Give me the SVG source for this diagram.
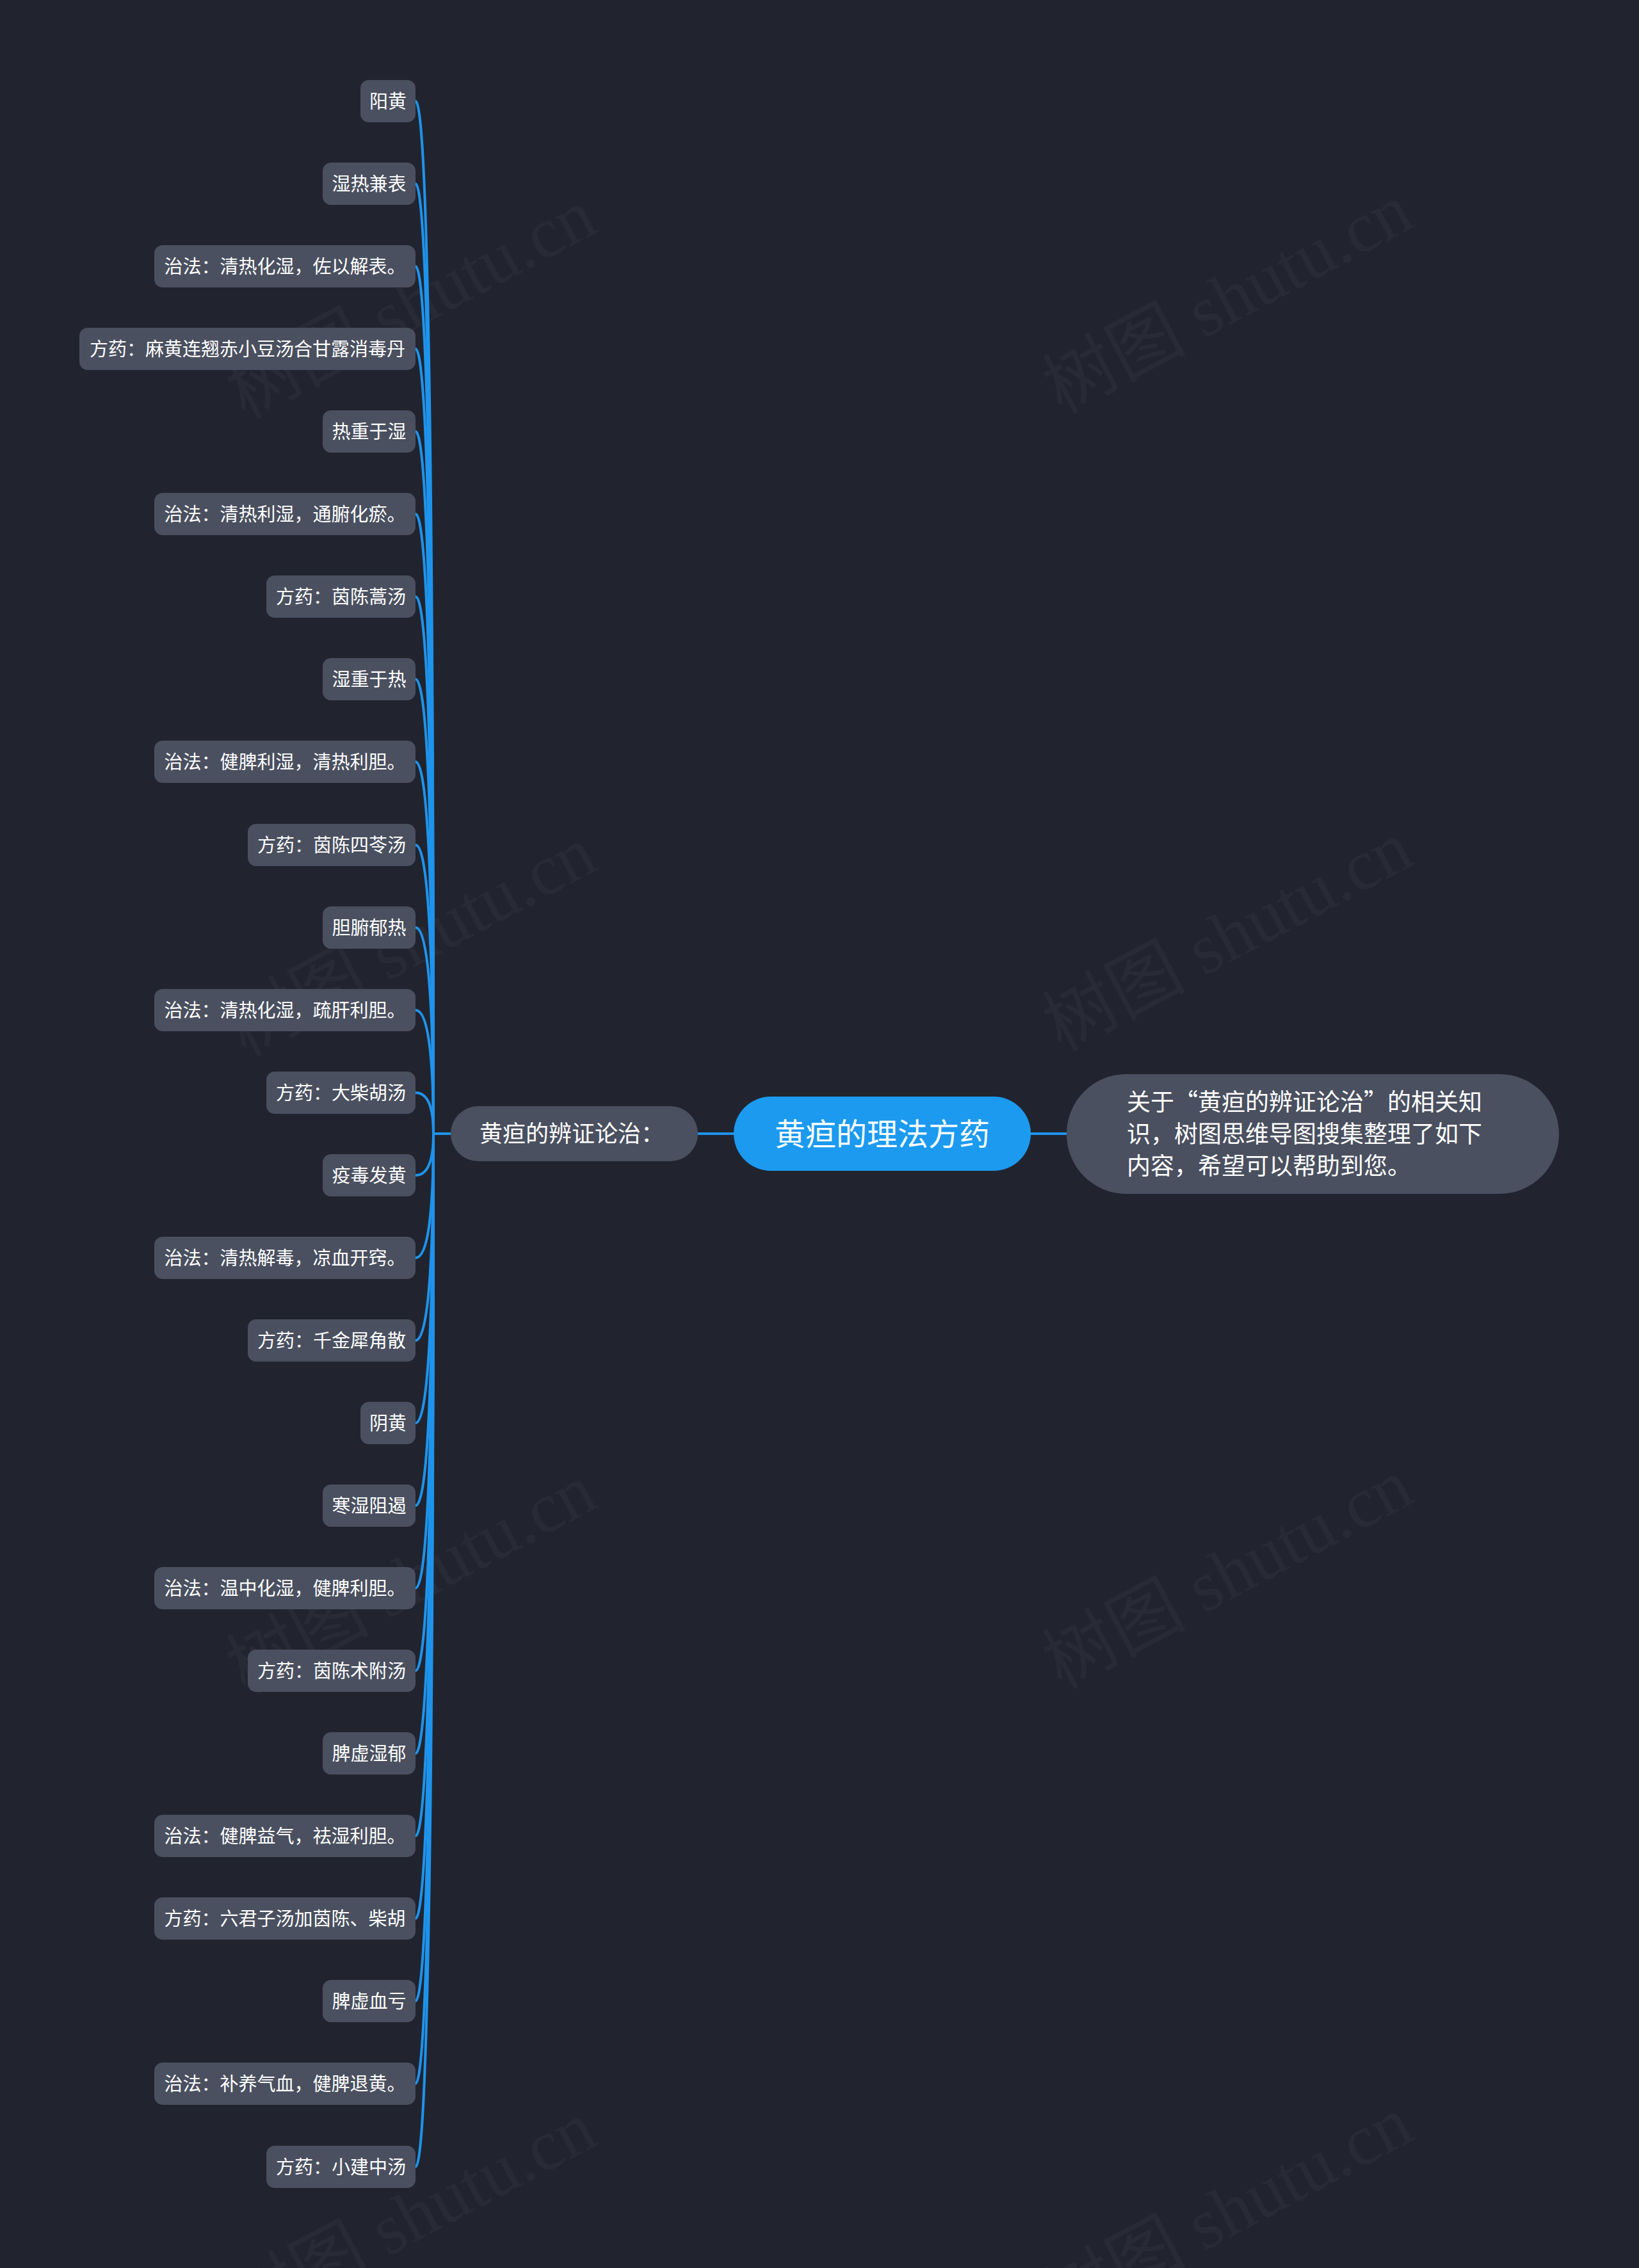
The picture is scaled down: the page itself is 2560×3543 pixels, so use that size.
<svg xmlns="http://www.w3.org/2000/svg" width="2560" height="3543" viewBox="0 0 2560 3543">
<style>
.bg{fill:#21242f}
.wm{font-family:"Liberation Serif","Noto Sans CJK SC",serif;font-size:112px;fill:#ffffff;fill-opacity:0.035}
.leaf rect{fill:#4a505f}
.leaf text{font-family:"Noto Sans CJK SC","Noto Sans",sans-serif;font-size:29px;fill:#ffffff;text-anchor:middle}
.con path{fill:none;stroke:#1e94ec;stroke-width:4;stroke-linecap:round}
.t36{font-family:"Noto Sans CJK SC","Noto Sans",sans-serif;font-size:36px;fill:#ffffff}
.t48{font-family:"Noto Sans CJK SC","Noto Sans",sans-serif;font-size:48px;fill:#ffffff;text-anchor:middle}
.t37{font-family:"Noto Sans CJK SC","Noto Sans",sans-serif;font-size:37px;fill:#ffffff}
</style>
<rect class="bg" x="0" y="0" width="2560" height="3543"/>
<g id="watermarks">
<text class="wm" transform="translate(660 508) rotate(-28)" text-anchor="middle">树图 shutu.cn</text>
<text class="wm" transform="translate(1935 500) rotate(-28)" text-anchor="middle">树图 shutu.cn</text>
<text class="wm" transform="translate(660 1504) rotate(-28)" text-anchor="middle">树图 shutu.cn</text>
<text class="wm" transform="translate(1935 1496) rotate(-28)" text-anchor="middle">树图 shutu.cn</text>
<text class="wm" transform="translate(660 2500) rotate(-28)" text-anchor="middle">树图 shutu.cn</text>
<text class="wm" transform="translate(1935 2492) rotate(-28)" text-anchor="middle">树图 shutu.cn</text>
<text class="wm" transform="translate(660 3496) rotate(-28)" text-anchor="middle">树图 shutu.cn</text>
<text class="wm" transform="translate(1935 3488) rotate(-28)" text-anchor="middle">树图 shutu.cn</text>
</g>
<g id="connectors" class="con">
<path d="M1610 1771 H1666"/>
<path d="M1090 1771 H1146"/>
<path d="M704 1771 H677"/>
<path d="M677 1771 Q677 158 649 158"/>
<path d="M677 1771 Q677 287 649 287"/>
<path d="M677 1771 Q677 416 649 416"/>
<path d="M677 1771 Q677 545 649 545"/>
<path d="M677 1771 Q677 674 649 674"/>
<path d="M677 1771 Q677 803 649 803"/>
<path d="M677 1771 Q677 932 649 932"/>
<path d="M677 1771 Q677 1061 649 1061"/>
<path d="M677 1771 Q677 1190 649 1190"/>
<path d="M677 1771 Q677 1320 649 1320"/>
<path d="M677 1771 Q677 1449 649 1449"/>
<path d="M677 1771 Q677 1578 649 1578"/>
<path d="M677 1771 Q677 1707 649 1707"/>
<path d="M677 1771 Q677 1836 649 1836"/>
<path d="M677 1771 Q677 1965 649 1965"/>
<path d="M677 1771 Q677 2094 649 2094"/>
<path d="M677 1771 Q677 2223 649 2223"/>
<path d="M677 1771 Q677 2352 649 2352"/>
<path d="M677 1771 Q677 2481 649 2481"/>
<path d="M677 1771 Q677 2610 649 2610"/>
<path d="M677 1771 Q677 2739 649 2739"/>
<path d="M677 1771 Q677 2868 649 2868"/>
<path d="M677 1771 Q677 2997 649 2997"/>
<path d="M677 1771 Q677 3126 649 3126"/>
<path d="M677 1771 Q677 3255 649 3255"/>
<path d="M677 1771 Q677 3385 649 3385"/>
</g>
<g id="root">
<rect x="1146" y="1713" width="464" height="116" rx="58" fill="#1b9af0"/>
<text class="t48" x="1378" y="1789">黄疸的理法方药</text>
</g>
<g id="summary">
<rect x="1666" y="1678" width="769" height="187" rx="93" fill="#4a505f"/>
<text class="t37" x="1760" y="1735">关于“黄疸的辨证论治”的相关知</text>
<text class="t37" x="1760" y="1785">识，树图思维导图搜集整理了如下</text>
<text class="t37" x="1760" y="1835">内容，希望可以帮助到您。</text>
</g>
<g id="branch">
<rect x="704" y="1728" width="386" height="86" rx="43" fill="#4a505f"/>
<text class="t36" x="749" y="1784">黄疸的辨证论治：</text>
</g>
<g id="leaf01" class="leaf"><rect x="563" y="125" width="86" height="66" rx="13"/><text x="606" y="169">阳黄</text></g>
<g id="leaf02" class="leaf"><rect x="504" y="254" width="145" height="66" rx="13"/><text x="576.5" y="298">湿热兼表</text></g>
<g id="leaf03" class="leaf"><rect x="241" y="383" width="408" height="66" rx="13"/><text x="445" y="427">治法：清热化湿，佐以解表。</text></g>
<g id="leaf04" class="leaf"><rect x="124" y="512" width="525" height="66" rx="13"/><text x="386.5" y="556">方药：麻黄连翘赤小豆汤合甘露消毒丹</text></g>
<g id="leaf05" class="leaf"><rect x="504" y="641" width="145" height="66" rx="13"/><text x="576.5" y="685">热重于湿</text></g>
<g id="leaf06" class="leaf"><rect x="241" y="770" width="408" height="66" rx="13"/><text x="445" y="814">治法：清热利湿，通腑化瘀。</text></g>
<g id="leaf07" class="leaf"><rect x="416" y="899" width="233" height="66" rx="13"/><text x="532.5" y="943">方药：茵陈蒿汤</text></g>
<g id="leaf08" class="leaf"><rect x="504" y="1028" width="145" height="66" rx="13"/><text x="576.5" y="1072">湿重于热</text></g>
<g id="leaf09" class="leaf"><rect x="241" y="1157" width="408" height="66" rx="13"/><text x="445" y="1201">治法：健脾利湿，清热利胆。</text></g>
<g id="leaf10" class="leaf"><rect x="387" y="1287" width="262" height="66" rx="13"/><text x="518" y="1331">方药：茵陈四苓汤</text></g>
<g id="leaf11" class="leaf"><rect x="504" y="1416" width="145" height="66" rx="13"/><text x="576.5" y="1460">胆腑郁热</text></g>
<g id="leaf12" class="leaf"><rect x="241" y="1545" width="408" height="66" rx="13"/><text x="445" y="1589">治法：清热化湿，疏肝利胆。</text></g>
<g id="leaf13" class="leaf"><rect x="416" y="1674" width="233" height="66" rx="13"/><text x="532.5" y="1718">方药：大柴胡汤</text></g>
<g id="leaf14" class="leaf"><rect x="504" y="1803" width="145" height="66" rx="13"/><text x="576.5" y="1847">疫毒发黄</text></g>
<g id="leaf15" class="leaf"><rect x="241" y="1932" width="408" height="66" rx="13"/><text x="445" y="1976">治法：清热解毒，凉血开窍。</text></g>
<g id="leaf16" class="leaf"><rect x="387" y="2061" width="262" height="66" rx="13"/><text x="518" y="2105">方药：千金犀角散</text></g>
<g id="leaf17" class="leaf"><rect x="563" y="2190" width="86" height="66" rx="13"/><text x="606" y="2234">阴黄</text></g>
<g id="leaf18" class="leaf"><rect x="504" y="2319" width="145" height="66" rx="13"/><text x="576.5" y="2363">寒湿阻遏</text></g>
<g id="leaf19" class="leaf"><rect x="241" y="2448" width="408" height="66" rx="13"/><text x="445" y="2492">治法：温中化湿，健脾利胆。</text></g>
<g id="leaf20" class="leaf"><rect x="387" y="2577" width="262" height="66" rx="13"/><text x="518" y="2621">方药：茵陈术附汤</text></g>
<g id="leaf21" class="leaf"><rect x="504" y="2706" width="145" height="66" rx="13"/><text x="576.5" y="2750">脾虚湿郁</text></g>
<g id="leaf22" class="leaf"><rect x="241" y="2835" width="408" height="66" rx="13"/><text x="445" y="2879">治法：健脾益气，祛湿利胆。</text></g>
<g id="leaf23" class="leaf"><rect x="241" y="2964" width="408" height="66" rx="13"/><text x="445" y="3008">方药：六君子汤加茵陈、柴胡</text></g>
<g id="leaf24" class="leaf"><rect x="504" y="3093" width="145" height="66" rx="13"/><text x="576.5" y="3137">脾虚血亏</text></g>
<g id="leaf25" class="leaf"><rect x="241" y="3222" width="408" height="66" rx="13"/><text x="445" y="3266">治法：补养气血，健脾退黄。</text></g>
<g id="leaf26" class="leaf"><rect x="416" y="3352" width="233" height="66" rx="13"/><text x="532.5" y="3396">方药：小建中汤</text></g>
</svg>
